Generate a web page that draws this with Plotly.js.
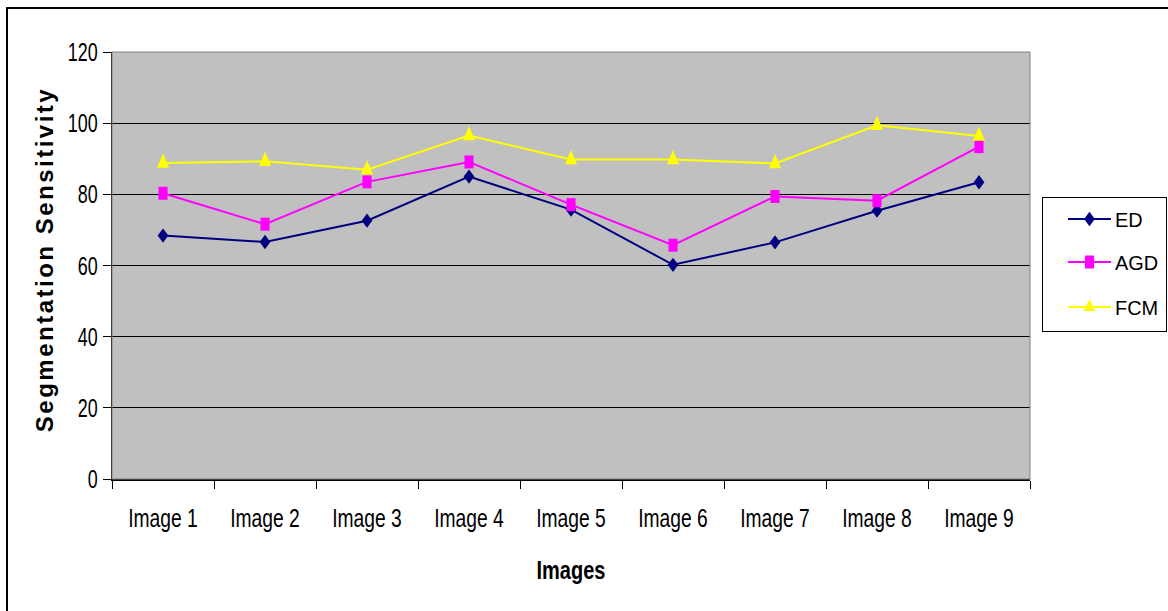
<!DOCTYPE html>
<html>
<head>
<meta charset="utf-8">
<script src="https://cdn.plot.ly/plotly-3.0.1.min.js"></script>
<style>
  html, body { margin: 0; padding: 0; background: #fff; }
  #wrap { position: relative; width: 1168px; height: 611px; overflow: hidden; }
  #chart { position: absolute; left: 0; top: 0; width: 1168px; height: 611px; }
  #frame { position: absolute; left: 6px; top: 7px; width: 1170px; height: 610px; border: 2px solid #000; pointer-events: none; }
  .ytitle { letter-spacing: 2.5px; }
</style>
</head>
<body>
<div id="wrap">
  <div id="chart"></div>
  <div id="frame"></div>
</div>
<script>
const categories = ["Image 1", "Image 2", "Image 3", "Image 4", "Image 5", "Image 6", "Image 7", "Image 8", "Image 9"];
const edValues  = [68.4, 66.6, 72.6, 85.0, 75.7, 60.2, 66.5, 75.4, 83.4];
const agdValues = [80.3, 71.6, 83.5, 89.1, 77.1, 65.7, 79.4, 78.2, 93.4];
const fcmValues = [88.8, 89.3, 86.9, 96.5, 89.8, 89.8, 88.7, 99.4, 96.4];
const seriesNames = ["ED", "AGD", "FCM"];
const yTicks = [0, 20, 40, 60, 80, 100, 120];

const FONT = '"Liberation Sans", Arial, sans-serif';

const traces = [
  { x: categories, y: edValues, name: seriesNames[0], type: 'scatter', mode: 'lines+markers',
    line: { color: '#000080', width: 2 }, marker: { symbol: 'diamond', size: 11, color: '#000080' } },
  { x: categories, y: agdValues, name: seriesNames[1], type: 'scatter', mode: 'lines+markers',
    line: { color: '#FF00FF', width: 2 }, marker: { symbol: 'square', size: 13, color: '#FF00FF' } },
  { x: categories, y: fcmValues, name: seriesNames[2], type: 'scatter', mode: 'lines+markers',
    line: { color: '#FFFF00', width: 2 }, marker: { symbol: 'triangle-up', size: 19, color: '#FFFF00' } }
];

const layout = {
  width: 1168, height: 611,
  margin: { l: 112, r: 138, t: 52, b: 132, pad: 0 },
  paper_bgcolor: '#FFFFFF',
  plot_bgcolor: '#C0C0C0',
  font: { family: FONT, size: 20, color: '#000' },
  showlegend: true,
  legend: {
    x: 0.0, y: 0.6604, xanchor: 'left', yanchor: 'top',
    bgcolor: '#FFFFFF', bordercolor: '#000', borderwidth: 1,
    font: { family: FONT, size: 21, color: '#000' },
    tracegroupgap: 0, itemwidth: 30
  },
  xaxis: {
    type: 'category', range: [-0.5, 8.5],
    showgrid: false, zeroline: false,
    showline: true, linecolor: '#000', linewidth: 2, mirror: false,
    ticks: 'outside', tickson: 'boundaries', ticklen: 8, tickcolor: '#000', tickwidth: 1,
    ticklabelstandoff: 16,
    tickfont: { family: FONT, size: 25, color: '#000' },
    title: { text: 'Images', font: { family: FONT, size: 25, weight: 'bold', color: '#000' }, standoff: 31 },
    fixedrange: true
  },
  yaxis: {
    range: [0, 120], tickvals: yTicks, ticktext: yTicks.map(String),
    showgrid: true, gridcolor: '#000', gridwidth: 1, zeroline: false,
    showline: true, linecolor: '#000', linewidth: 1,
    ticks: 'outside', ticklen: 8, tickcolor: '#000', tickwidth: 1,
    ticklabelstandoff: 0,
    tickfont: { family: FONT, size: 26, color: '#000' },
    title: { text: 'Segmentation Sensitivity', font: { family: FONT, size: 24, weight: 'bold', color: '#000' }, standoff: 10 },
    fixedrange: true
  },
  shapes: [
    { type: 'rect', xref: 'paper', yref: 'paper', x0: 0, x1: 1, y0: 0, y1: 1,
      line: { color: '#808080', width: 1 }, fillcolor: 'rgba(0,0,0,0)', layer: 'above' }
  ]
};
layout.legend.x = (1042 - 112) / 918;

function squeeze(el, sx, sy) {
  const x = parseFloat(el.getAttribute('x')) || 0;
  const y = parseFloat(el.getAttribute('y')) || 0;
  const t = el.getAttribute('transform') || '';
  el.setAttribute('transform', t + ' translate(' + x + ',' + y + ') scale(' + sx + ',' + sy + ') translate(' + (-x) + ',' + (-y) + ')');
}
function squeezeMarker(el, sx) {
  const t = el.getAttribute('transform') || '';
  el.setAttribute('transform', t + ' scale(' + sx + ',1)');
}

const gd = document.getElementById('chart');
Plotly.newPlot(gd, traces, layout, { displayModeBar: false, staticPlot: true }).then(function () {
  gd.querySelectorAll('.xtick text').forEach(function (t) { squeeze(t, 0.77, 1); });
  gd.querySelectorAll('.ytick text').forEach(function (t) { squeeze(t, 0.69, 1); });
  gd.querySelectorAll('.xtitle').forEach(function (t) { squeeze(t, 0.80, 1); });
  gd.querySelectorAll('.ytitle').forEach(function (t) {
    const tr = t.getAttribute('transform') || '';
    t.setAttribute('transform', 'translate(16,-6) ' + tr);
  });
  const markerScale = [0.75, 0.7, 0.55];
  gd.querySelectorAll('.scatterlayer .trace').forEach(function (tr, i) {
    tr.querySelectorAll('path.point').forEach(function (p) { squeezeMarker(p, markerScale[i]); });
  });
  // legend layout
  const leg = gd.querySelector('.legend');
  if (leg) {
    leg.querySelectorAll('rect.bg').forEach(function (r) { r.setAttribute('width', 124); r.setAttribute('height', 134); });
    document.querySelectorAll('clipPath[id^="legend"] rect').forEach(function (r) { r.setAttribute('width', 124); r.setAttribute('height', 134); });
    const itemY = [22, 65, 110];
    const legendMarkerScale = [0.75, 0.7, 0.65];
    leg.querySelectorAll('g.traces').forEach(function (g, i) {
      g.setAttribute('transform', 'translate(0,' + itemY[i] + ')');
      g.querySelectorAll('g.legendlines path, path.js-line, path.legendlines').forEach(function (p) { p.setAttribute('d', 'M26,0h43'); });
      g.querySelectorAll('path.scatterpts').forEach(function (p) {
        p.setAttribute('transform', 'translate(47.5,0) scale(' + legendMarkerScale[i] + ',1)');
      });
      g.querySelectorAll('text.legendtext').forEach(function (t) {
        t.setAttribute('x', 73);
        squeeze(t, 0.95, 1);
      });
      g.querySelectorAll('rect.legendtoggle').forEach(function (r) { r.setAttribute('width', 120); });
    });
  }
});
</script>
</body>
</html>
